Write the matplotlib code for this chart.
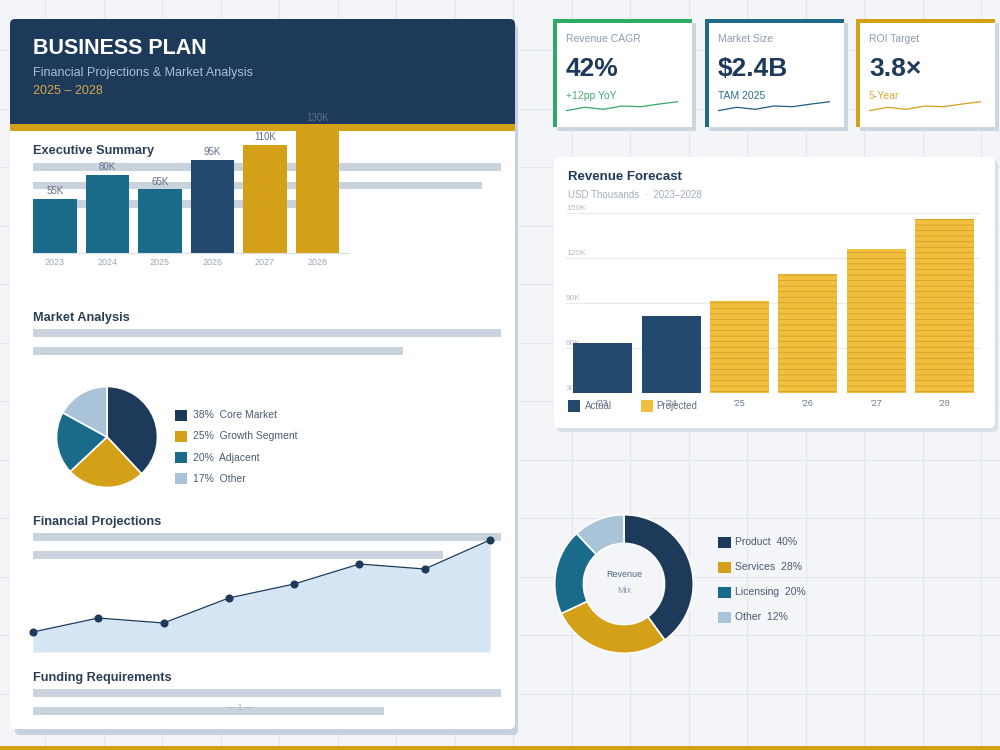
import matplotlib
matplotlib.use('Agg')
import numpy as np
import matplotlib.pyplot as plt
import matplotlib.transforms as mtransforms
from matplotlib.patches import Rectangle, FancyBboxPatch, Circle

plt.rcParams['font.family'] = ['Liberation Sans', 'DejaVu Sans']
plt.rcParams['hatch.linewidth'] = 0.55

# ---------------- data ----------------
summary_years = ['2023', '2024', '2025', '2026', '2027', '2028']
summary_values = [55, 80, 65, 95, 110, 130]
summary_labels = ['55K', '80K', '65K', '95K', '110K', '130K']

market_labels = ['Core Market', 'Growth Segment', 'Adjacent', 'Other']
market_shares = [38, 25, 20, 17]

projection_values = [20, 34, 29, 54, 68, 88, 83, 112]

kpi_titles = ['Revenue CAGR', 'Market Size', 'ROI Target']
kpi_values = ['42%', '$2.4B', '3.8×']
kpi_notes = ['+12pp YoY', 'TAM 2025', '5-Year']
spark_values = [7.3, 10.7, 8.7, 12.0, 11.3, 14.0, 16.3]

forecast_years = ["'23", "'24", "'25", "'26", "'27", "'28"]
forecast_values = [63, 81, 91, 109, 126, 146]
forecast_actual = [True, True, False, False, False, False]
forecast_ticks = [30, 60, 90, 120, 150]

mix_labels = ['Product', 'Services', 'Licensing', 'Other']
mix_shares = [40, 28, 20, 12]

# ---------------- style ----------------
BG = '#f3f5f9'
GRID = '#e2e7ee'
NAVY = '#1e3a5a'
NAVY2 = '#234a6e'
TEAL = '#1a6b8a'
GOLD = '#d4a017'
GOLD_L = '#f1bf3e'
LIGHT = '#a9c4d8'
SKEL = '#c9d3de'
TITLE = '#2a3f57'
TXT = '#4a5b70'

fig = plt.figure(figsize=(10, 7.5), dpi=100, facecolor=BG)
bg = fig.add_axes([0, 0, 1, 1], zorder=0)
bg.set_xlim(0, 1000)
bg.set_ylim(750, 0)
bg.axis('off')


def pax(x0, y0, x1, y1, z=2):
    a = fig.add_axes([x0 / 1000, 1 - y1 / 750, (x1 - x0) / 1000, (y1 - y0) / 750], zorder=z)
    a.patch.set_alpha(0)
    return a


def rbox(x0, y0, x1, y1, color, r=5, z=1):
    bg.add_patch(FancyBboxPatch((x0, y0), x1 - x0, y1 - y0,
                                boxstyle=f'round,pad=0,rounding_size={r}',
                                facecolor=color, edgecolor='none', zorder=z))


def rect(x0, y0, x1, y1, color, z=1):
    bg.add_patch(Rectangle((x0, y0), x1 - x0, y1 - y0, facecolor=color,
                           edgecolor='none', zorder=z))


def skel(x0, x1, y):
    rect(x0, y, x1, y + 7.5, SKEL, z=2)


# background grid
for gx in np.arange(45, 1000, 58.5):
    bg.plot([gx, gx], [0, 750], color=GRID, lw=0.8, zorder=0)
for gy in np.arange(50, 750, 58.5):
    bg.plot([0, 1000], [gy, gy], color=GRID, lw=0.8, zorder=0)
rect(0, 746, 1000, 750, GOLD, z=5)

# ---------------- left document card ----------------
rbox(15, 24, 518, 735, '#c5d1dd', r=5, z=1)
rbox(10, 19, 515, 729, 'white', r=5, z=1.1)
rbox(10, 19, 515, 125, NAVY, r=5, z=1.2)
rect(10, 60, 515, 125, NAVY, z=1.2)
rect(10, 124, 515, 131, GOLD, z=1.3)

bg.text(33, 48, 'BUSINESS PLAN', color='white', fontsize=15.5, fontweight='bold', va='center', zorder=3)
bg.text(33, 73, 'Financial Projections & Market Analysis', color='#a9bfd6', fontsize=9, va='center', zorder=3)
bg.text(33, 91, '2025 – 2028', color='#d4a84a', fontsize=9, va='center', zorder=3)

# Executive summary
bg.text(33, 151, 'Executive Summary', color=TITLE, fontsize=9.2, fontweight='bold', va='center', zorder=3)
skel(33, 501, 163)
skel(33, 482, 181.5)
skel(33, 300, 200)

ax = pax(33, 113, 349, 253)
bar_colors = [TEAL, TEAL, TEAL, NAVY2, GOLD, GOLD]
xs = np.arange(len(summary_values))
ax.bar(xs, summary_values, width=0.838, color=bar_colors, zorder=2)
for x, v, lab in zip(xs, summary_values, summary_labels):
    ax.annotate(lab, (x, v), xytext=(0, 2), textcoords='offset points', ha='center', va='bottom',
                fontsize=7, color='#5f7086', annotation_clip=False)
ax.set_xlim(-0.419, 5.6)
ax.set_ylim(0, 140 / 0.98)
ax.set_xticks(xs, summary_years)
ax.tick_params(axis='x', length=0, pad=3.5, labelsize=6.5, labelcolor='#9aa8b8')
ax.set_yticks([])
for s in ['top', 'left', 'right']:
    ax.spines[s].set_visible(False)
ax.spines['bottom'].set_color('#d8dee6')
ax.spines['bottom'].set_linewidth(0.8)

# Market analysis
bg.text(33, 318, 'Market Analysis', color=TITLE, fontsize=9.2, fontweight='bold', va='center', zorder=3)
skel(33, 501, 329)
skel(33, 403, 347)

pie_colors = [NAVY, GOLD, TEAL, LIGHT]
ax = pax(56, 386, 158, 488)
ax.pie(market_shares, colors=pie_colors, startangle=90, counterclock=False, radius=1,
       wedgeprops=dict(edgecolor='white', linewidth=1.2))
ax.set_xlim(-1.01, 1.01)
ax.set_ylim(-1.01, 1.01)

for i, (lab, sh) in enumerate(zip(market_labels, market_shares)):
    yc = 415 + i * 21.3
    rect(175, yc - 5.5, 187, yc + 5.5, pie_colors[i], z=3)
    bg.text(193, yc, f'{sh}%  {lab}', color=TXT, fontsize=7.5, va='center', zorder=3)

# Financial projections
bg.text(33, 522, 'Financial Projections', color=TITLE, fontsize=9.2, fontweight='bold', va='center', zorder=3)
skel(33, 501, 533)
skel(33, 443, 551)

ax = pax(33, 532, 490, 652)
px = np.arange(len(projection_values))
ax.fill_between(px, projection_values, 0, color='#d4e6f4', lw=0, zorder=1)
ax.plot(px, projection_values, color=NAVY, lw=0.9, marker='o', ms=4.8, clip_on=False, zorder=3)
ax.set_xlim(0, len(projection_values) - 1)
ax.set_ylim(0, 120)
ax.axis('off')

# Funding requirements
bg.text(33, 678, 'Funding Requirements', color=TITLE, fontsize=9.2, fontweight='bold', va='center', zorder=3)
skel(33, 501, 689)
skel(33, 384, 707)
bg.text(240, 708, '— 1 —', color='#aab4c0', fontsize=6.5, ha='center', va='center', zorder=3)

# ---------------- KPI cards ----------------
kpi_x = [553, 705, 856]
kpi_border = ['#2eaa66', '#1f6a87', GOLD]
kpi_note_col = ['#45ad73', '#2a6f8e', '#d9a93a']
kpi_spark_col = ['#3aa76d', '#1f5f80', '#d4a017']
for i in range(3):
    x0 = kpi_x[i]
    x1 = x0 + 139
    rect(x0 + 4, 23, x1 + 4, 131, '#cbd6e1', z=1)
    rect(x0, 19, x1, 127, kpi_border[i], z=1.1)
    rect(x0 + 4, 23, x1, 127, 'white', z=1.2)
    bg.text(x0 + 13, 39, kpi_titles[i], color='#8d9bb0', fontsize=7.5, va='center', zorder=3)
    bg.text(x0 + 13, 69, kpi_values[i], color=NAVY, fontsize=19, fontweight='bold', va='center', zorder=3)
    bg.text(x0 + 13, 96, kpi_notes[i], color=kpi_note_col[i], fontsize=7.5, va='center', zorder=3)
    sa = pax(x0 + 13, 98, x0 + 125, 118, z=3)
    sa.plot(np.arange(len(spark_values)), spark_values, color=kpi_spark_col[i], lw=0.9)
    sa.set_xlim(0, len(spark_values) - 1)
    sa.set_ylim(0, 20)
    sa.axis('off')

# ---------------- Revenue forecast card ----------------
rbox(557, 160, 998, 432, '#d8e0e9', r=5, z=1)
rbox(554, 157, 995, 428, 'white', r=5, z=1.1)
bg.text(568, 177, 'Revenue Forecast', color=NAVY, fontsize=9.5, fontweight='bold', va='center', zorder=3)
bg.text(568, 195, 'USD Thousands  ·  2023–2028', color='#a3aebb', fontsize=7, va='center', zorder=3)

ax = pax(566, 205, 980, 393)
trans = mtransforms.blended_transform_factory(ax.transAxes, ax.transData)
for t in forecast_ticks:
    ax.axhline(t, color='#e6eaf0', lw=0.8, zorder=0.3)
    ax.text(0, t + 0.5, f'{t}K', transform=trans, ha='left', va='bottom', fontsize=6,
            color='#b3bdc8', zorder=0.5)
fx = np.arange(len(forecast_values))
for x, v, act in zip(fx, forecast_values, forecast_actual):
    if act:
        ax.bar(x, v, width=0.862, color=NAVY2, lw=0, zorder=2)
    else:
        ax.bar(x, v, width=0.862, facecolor=GOLD_L, edgecolor='#cf9d24', hatch='---', lw=0, zorder=2)
ax.set_xlim(-0.537, 5.52)
ax.set_ylim(30, 30 + 188 / 1.503)
ax.set_xticks(fx, forecast_years)
ax.tick_params(axis='x', length=0, pad=4.5, labelsize=6.5, labelcolor='#6b7b8d')
ax.set_yticks([])
for s in ax.spines.values():
    s.set_visible(False)

rect(568, 400, 580, 411.5, NAVY2, z=3)
bg.text(585, 406, 'Actual', color='#5f6f82', fontsize=7, va='center', zorder=3)
rect(641, 400, 653, 411.5, GOLD_L, z=3)
bg.text(656, 406, 'Projected', color='#5f6f82', fontsize=7, va='center', zorder=3)

# ---------------- Revenue mix donut ----------------
mix_colors = [NAVY, GOLD, TEAL, LIGHT]
ax = pax(554, 514, 694, 654)
ax.pie(mix_shares, colors=mix_colors, startangle=90, counterclock=False, radius=1,
       wedgeprops=dict(width=1 - 41 / 70, edgecolor='white', linewidth=1.2))
ax.add_patch(Circle((0, 0), 41 / 70 - 0.01, facecolor=BG, edgecolor='none', zorder=0))
ax.set_xlim(-1.01, 1.01)
ax.set_ylim(-1.01, 1.01)
ax.text(0, 0.13, 'Revenue', ha='center', va='center', fontsize=6.5, color='#55667a')
ax.text(0, -0.1, 'Mix', ha='center', va='center', fontsize=6.5, color='#8d9bb0')

for i, (lab, sh) in enumerate(zip(mix_labels, mix_shares)):
    yc = 542 + i * 25
    rect(718, yc - 5.5, 731, yc + 6, mix_colors[i], z=3)
    bg.text(735, yc, f'{lab}  {sh}%', color=TXT, fontsize=7.5, va='center', zorder=3)

fig.savefig('out.png', dpi=100, facecolor=BG)
